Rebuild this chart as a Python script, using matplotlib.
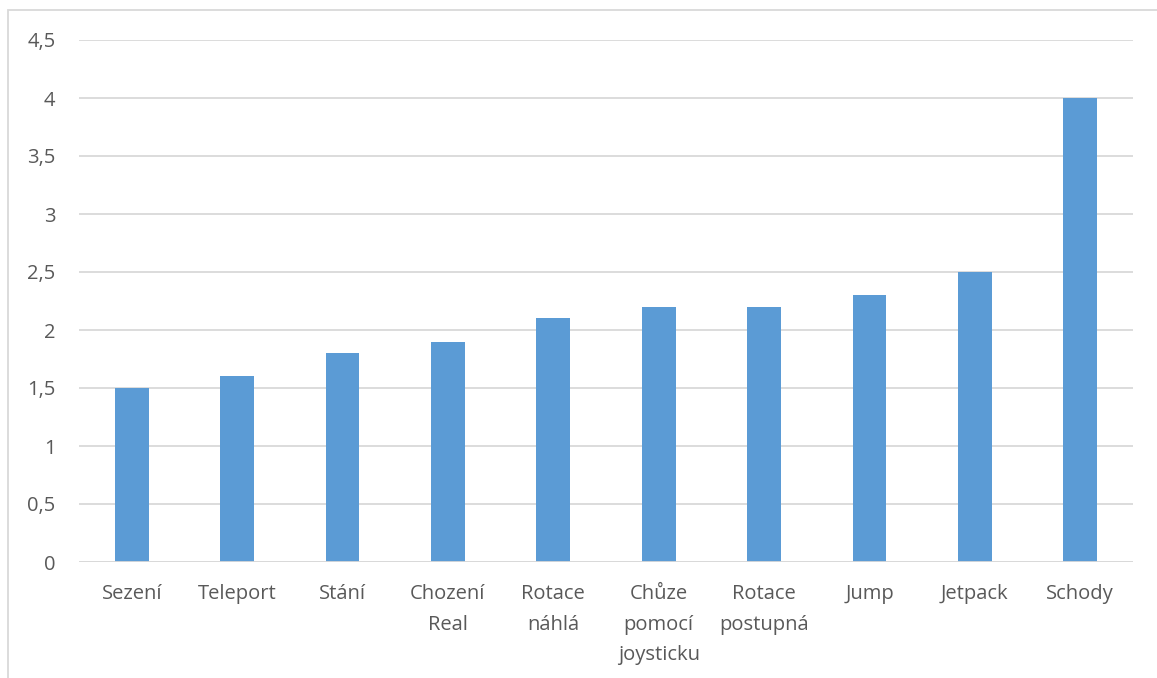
import matplotlib.pyplot as plt
from matplotlib.patches import Rectangle
from matplotlib.ticker import FuncFormatter, MultipleLocator

categories = ["Sezení", "Teleport", "Stání", "Chození\nReal", "Rotace\nnáhlá",
              "Chůze\npomocí\njoysticku", "Rotace\npostupná", "Jump", "Jetpack", "Schody"]
values = [1.5, 1.6, 1.8, 1.9, 2.1, 2.2, 2.2, 2.3, 2.5, 4.0]

W, H = 1157, 678
fig = plt.figure(figsize=(W / 100, H / 100), dpi=100)
fig.patch.set_facecolor("white")

# outer chart frame
fig.add_artist(Rectangle((8 / W, -0.05), 1.2, 1 - 10 / H + 0.05, transform=fig.transFigure,
                         fill=False, edgecolor="#D9D9D9", linewidth=1.3))

ax = fig.add_axes([79 / W, 116 / H, (1133 - 79) / W, (562 - 40) / H])
x = range(len(categories))
ax.bar(x, values, width=0.32, color="#5B9BD5", zorder=3)

ax.set_xlim(-0.5, len(categories) - 0.5)
ax.set_ylim(0, 4.5)
ax.yaxis.set_major_locator(MultipleLocator(0.5))
ax.yaxis.set_major_formatter(FuncFormatter(lambda v, p: f"{v:g}".replace(".", ",")))
ax.grid(axis="y", color="#D9D9D9", linewidth=1.3, zorder=0)
for s in ax.spines.values():
    s.set_visible(False)
ax.axhline(0, color="#D9D9D9", linewidth=1.3, zorder=4)

fam = ["Open Sans", "DejaVu Sans"]
font = dict(family=fam, size=14.5, color="#595959")
ax.set_xticks(list(x))
ax.set_xticklabels(categories, linespacing=1.7, va="top", **font)
ax.tick_params(axis="y", length=0, pad=17, labelsize=14.5, labelcolor="#595959")
ax.tick_params(axis="x", length=0, pad=16)
for lbl in ax.get_yticklabels():
    lbl.set_fontfamily(fam)

fig.savefig("out.png", dpi=100, facecolor="white")
